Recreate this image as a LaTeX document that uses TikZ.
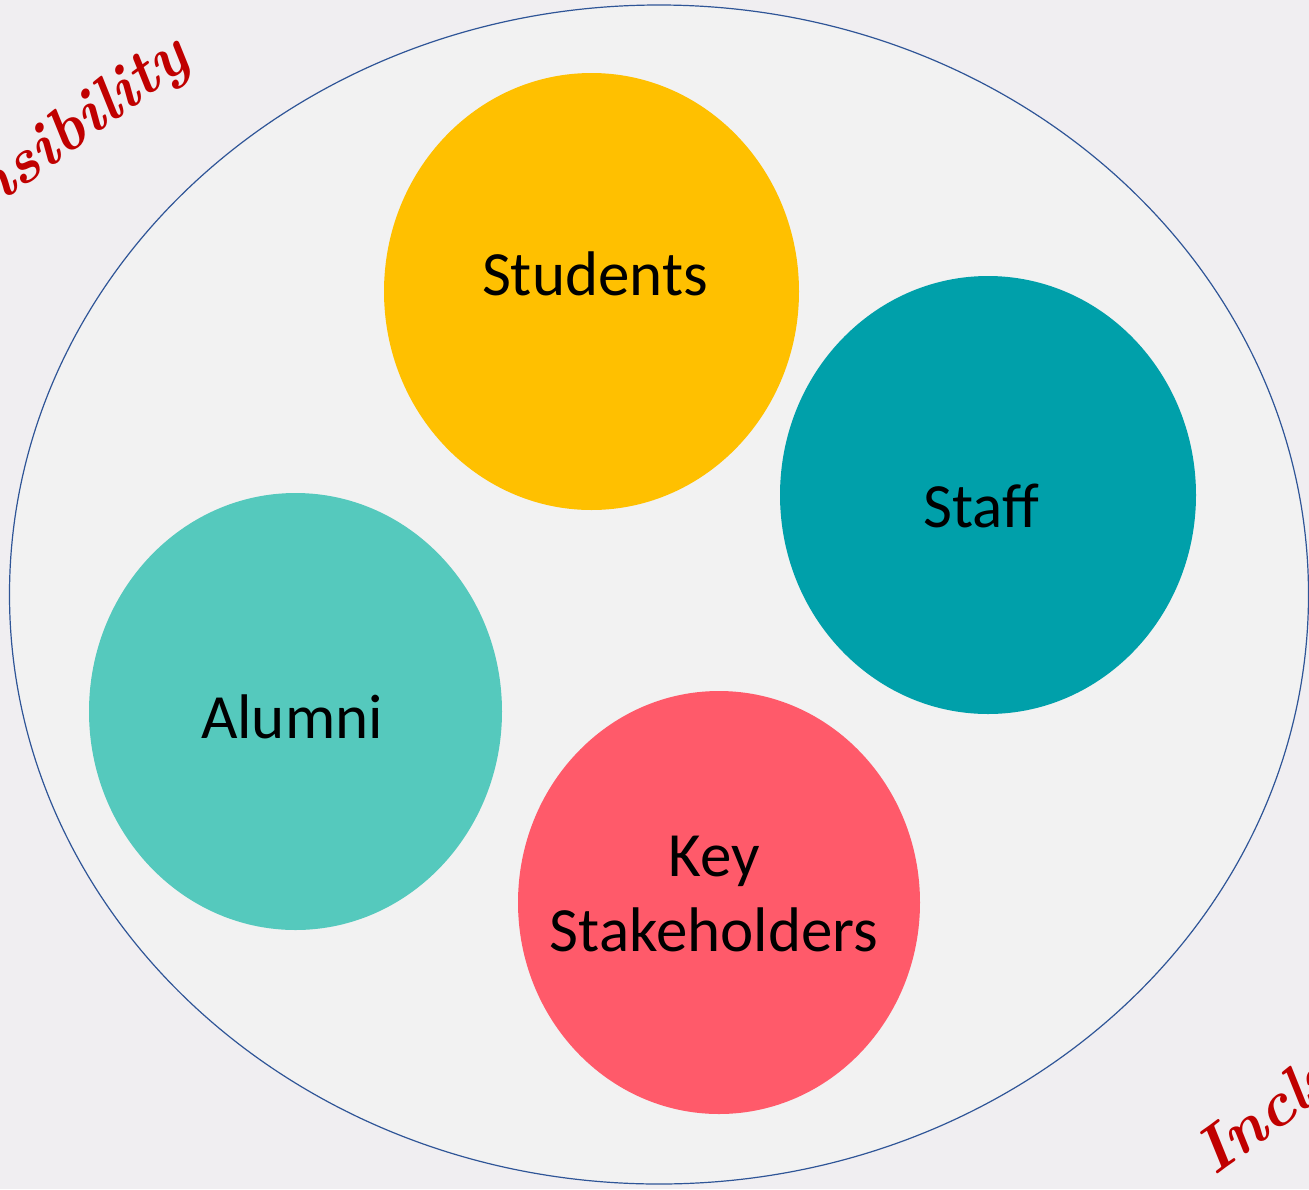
\documentclass[tikz,border=0pt]{standalone}
\usepackage{fontspec}
\setmainfont{Carlito}
\newfontfamily\handfont{Latin Modern Roman}
\usetikzlibrary{shapes.geometric}
\definecolor{bgc}{HTML}{F0EEF1}
\definecolor{ellfill}{HTML}{F2F2F2}
\definecolor{ellline}{HTML}{2F5597}
\definecolor{cstud}{HTML}{FFC000}
\definecolor{cstaff}{HTML}{00A0AA}
\definecolor{calum}{HTML}{55C9BD}
\definecolor{ckey}{HTML}{FF5A6A}
\definecolor{cred}{HTML}{C00000}
\tikzset{
  blob/.style={ellipse, inner sep=0pt, draw=none},
  lbl/.style={anchor=base, inner sep=0pt, font=\fontsize{63}{75.6}\selectfont, text=black},
  scr/.style={inner sep=0pt, text=cred, rotate=36, font=\handfont\bfseries\itshape\fontsize{64}{76}\selectfont}
}
\begin{document}
\begin{tikzpicture}[x=1pt,y=-1pt]
\clip (0,0) rectangle (1309,1189);
\fill[bgc] (0,0) rectangle (1309,1189);
\node[blob, draw=ellline, line width=1.2pt, fill=ellfill, minimum width=1299, minimum height=1179] (outer) at (659,594.5) {};
\node[blob, fill=cstud, minimum width=415, minimum height=437] (students) at (591.5,291.5) {};
\node[blob, fill=cstaff, minimum width=416, minimum height=438] (staff) at (988,495) {};
\node[blob, fill=calum, minimum width=413, minimum height=437] (alumni) at (295.5,711.5) {};
\node[blob, fill=ckey, minimum width=402, minimum height=423] (key) at (719,902.5) {};
\node[lbl] (tstud) at (595,295) {Students};
\node[lbl] (tstaff) at (981,527) {Staff};
\node[lbl] (talum) at (292,738) {Alumni};
\node[lbl] (tkeya) at (714.5,876) {Key};
\node[lbl] (tkeyb) at (714,951) {Stakeholders};
\node[scr, anchor=base east] (resp) at (193,64) {Responsibility};
\node[scr, anchor=base west] (incl) at (1214,1177) {Inclusion};
\end{tikzpicture}
\end{document}
